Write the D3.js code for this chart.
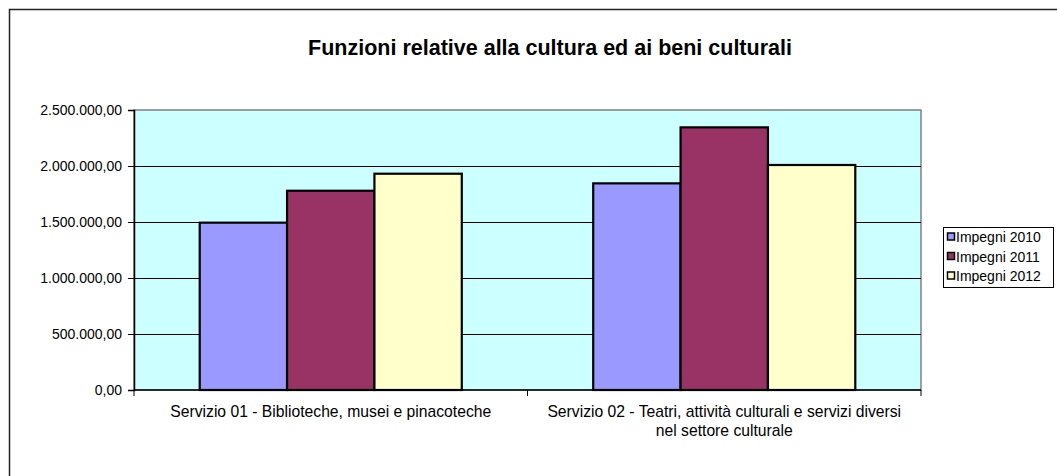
<!DOCTYPE html>
<html><head><meta charset="utf-8">
<script src="https://cdn.jsdelivr.net/npm/d3@7"></script>
<style>body{margin:0;background:#fff}svg{display:block;font-family:"Liberation Sans",Arial,sans-serif}</style>
</head><body>
<svg id="c" width="1057" height="476"></svg>
<script>
const categories = [
  ["Servizio 01 - Biblioteche, musei e pinacoteche"],
  ["Servizio 02 - Teatri, attività culturali e servizi diversi", "nel settore culturale"]
];
const seriesNames = ["Impegni 2010", "Impegni 2011", "Impegni 2012"];
const impegni2010 = [1494000, 1845000];
const impegni2011 = [1779000, 2345000];
const impegni2012 = [1931000, 2009000];
const yTicks = [0, 500000, 1000000, 1500000, 2000000, 2500000];
const colors = ["#9999FF", "#993366", "#FFFFCC"];
const title = "Funzioni relative alla cultura ed ai beni culturali";

const values = [impegni2010, impegni2011, impegni2012];
const svg = d3.select("#c");
const L = 134, R = 921, T = 110, B = 390;

// outer chart border
svg.append("path").attr("d", "M9.5,476 V9.5 H1057").attr("fill", "none").attr("stroke", "#222").attr("stroke-width", 1.5);

svg.append("text").attr("x", 550).attr("y", 55).attr("text-anchor", "middle")
  .attr("font-weight", "bold").attr("font-size", 21.5).text(title);

const y = d3.scaleLinear().domain([0, 2500000]).range([B, T]);
const x0 = d3.scaleBand().domain(d3.range(categories.length)).range([L, R]).paddingInner(0.334).paddingOuter(0.167);
const x1 = d3.scaleBand().domain(d3.range(seriesNames.length)).range([0, x0.bandwidth()]);

// plot area
svg.append("rect").attr("x", L).attr("y", T).attr("width", R - L).attr("height", B - T)
  .attr("fill", "#CCFFFF").attr("stroke", "#808080").attr("stroke-width", 1.5);

// gridlines
svg.append("g").selectAll("line").data(yTicks.filter(d => d > 0 && d < 2500000)).join("line")
  .attr("x1", L).attr("x2", R).attr("y1", d => Math.round(y(d)) + 0.5).attr("y2", d => Math.round(y(d)) + 0.5)
  .attr("stroke", "#000").attr("stroke-width", 1);

const fmt = d => d3.formatLocale({decimal: ",", thousands: ".", grouping: [3], currency: ["", ""]}).format(",.2f")(d);

// y axis
const ya = d3.axisLeft(y).tickValues(yTicks).tickFormat(fmt).tickSize(6).tickPadding(6);
const yg = svg.append("g").attr("transform", `translate(${L},0)`).call(ya);
yg.select(".domain").attr("stroke", "#000").attr("stroke-width", 1.5);
yg.selectAll(".tick line").attr("stroke", "#000");
yg.selectAll("text").attr("font-size", 14).attr("fill", "#000").attr("font-family", "Liberation Sans, Arial, sans-serif");

// bars
const g = svg.append("g");
categories.forEach((c, ci) => {
  values.forEach((s, si) => {
    g.append("rect")
      .attr("x", x0(ci) + x1(si)).attr("y", y(s[ci]))
      .attr("width", x1.bandwidth()).attr("height", B - y(s[ci]))
      .attr("fill", colors[si]).attr("stroke", "#000").attr("stroke-width", 2.2);
  });
});

// x axis
const xa = svg.append("g");
xa.append("line").attr("x1", L).attr("x2", R).attr("y1", B).attr("y2", B).attr("stroke", "#000").attr("stroke-width", 1.5);
[0, 1, 2].forEach(i => {
  const xx = L + i * (R - L) / categories.length;
  xa.append("line").attr("x1", xx).attr("x2", xx).attr("y1", B).attr("y2", B + 6).attr("stroke", "#000");
});
categories.forEach((c, ci) => {
  const t = xa.append("text").attr("text-anchor", "middle").attr("font-size", 15.7).attr("fill", "#000");
  c.forEach((line, li) => {
    t.append("tspan").attr("x", x0(ci) + x0.bandwidth() / 2).attr("y", 417 + li * 18.5).text(line);
  });
});

// legend
const lg = svg.append("g");
lg.append("rect").attr("x", 943.5).attr("y", 227.5).attr("width", 110).attr("height", 60)
  .attr("fill", "#fff").attr("stroke", "#000").attr("stroke-width", 1);
seriesNames.forEach((n, i) => {
  const yy = 237 + i * 19.5;
  lg.append("rect").attr("x", 947.5).attr("y", yy - 4).attr("width", 7).attr("height", 7)
    .attr("fill", colors[i]).attr("stroke", "#000").attr("stroke-width", 1.5);
  lg.append("text").attr("x", 956).attr("y", yy + 5).attr("font-size", 14).text(n);
});
</script>
</body></html>
